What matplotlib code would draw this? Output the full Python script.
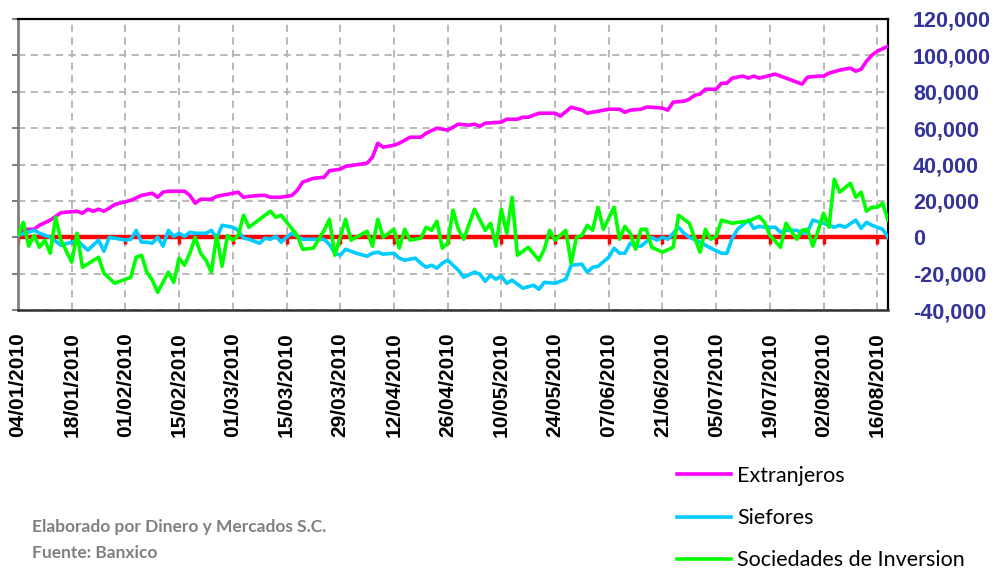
import numpy as np
import pandas as pd
import matplotlib
matplotlib.use("Agg")
import matplotlib.pyplot as plt
from matplotlib.ticker import FuncFormatter

# sesiones habiles desde 04/01/2010 (indice de sesion, valor en mdp)
ext_ses = [0, 1, 3, 4, 6, 8, 11, 12, 13, 14, 15, 16, 17, 18, 21, 23, 25, 26, 27, 28,
           31, 32, 33, 34, 36, 37, 39, 41, 42, 43, 45, 46, 47, 49, 51, 52, 53, 55, 57, 58,
           60, 61, 65, 66, 67, 68, 70, 71, 73, 75, 76, 78, 80, 82, 84, 85, 86, 87, 90, 91,
           93, 94, 95, 97, 98, 100, 101, 103, 105, 106, 108, 110, 112, 113, 114, 116, 117, 118, 120, 121,
           122, 124, 125, 126, 127, 128, 130, 131, 132, 133, 135, 136, 137, 138, 141, 142, 146, 147, 149, 150,
           151, 153, 155, 156, 157, 158, 159, 160, 162]
ext_val = [500, 4400, 4400, 6600, 9400, 13500, 14300, 13200, 15400, 14300, 15400, 14300, 16000, 18000, 20300, 23000, 24200, 22000, 24800, 25300,
           25300, 23000, 18700, 20900, 20900, 22500, 23600, 24800, 22000, 22500, 23000, 23000, 22000, 22000, 23000, 25800, 30300, 32400, 33000, 36600,
           37400, 39000, 40700, 44000, 51700, 49500, 50600, 51700, 55000, 55000, 57200, 60000, 58900, 62200, 61600, 62200, 61000, 62700, 63300, 64900,
           64900, 66000, 66000, 68200, 68200, 68200, 66600, 71500, 69900, 68200, 69300, 70400, 70400, 68700, 69900, 70400, 71500, 71500, 71000, 69900,
           74300, 74800, 75900, 78100, 78700, 81400, 81400, 84700, 84700, 87500, 88600, 87500, 88600, 87500, 89700, 88600, 84200, 88000, 88600, 88600,
           90200, 91900, 93000, 91300, 92400, 96800, 100100, 102300, 105000]

sie_ses = [0, 3, 4, 6, 8, 10, 11, 12, 13, 15, 16, 17, 18, 20, 21, 22, 23, 24, 25, 26,
           27, 28, 29, 30, 31, 32, 33, 35, 36, 37, 38, 40, 41, 42, 43, 45, 46, 47, 48, 49,
           50, 51, 53, 57, 58, 59, 60, 61, 63, 65, 66, 67, 68, 70, 71, 72, 74, 75, 76, 77,
           78, 79, 80, 82, 83, 85, 86, 87, 88, 89, 90, 91, 92, 94, 96, 97, 98, 100, 101, 102,
           103, 105, 106, 107, 108, 110, 111, 112, 113, 114, 115, 116, 118, 119, 120, 121, 123, 124, 125, 127,
           129, 131, 132, 133, 134, 136, 137, 138, 139, 141, 142, 143, 145, 146, 147, 148, 150, 152, 153, 154,
           156, 157, 158, 159, 160, 161, 162]
sie_val = [1000, 3800, 2200, 0, -4400, -2700, -1600, -4400, -7100, -1600, -7700, 0, -500, -1600, -1100, 3800, -2700, -2700, -3300, 0,
           -4900, 3800, 500, 2200, 500, 2700, 2200, 2200, 3800, -500, 6600, 5500, 3800, -500, -1100, -3300, -500, -1100, 500, -2700,
           0, 2200, -1100, -1100, -4000, -8800, -9900, -6600, -8800, -10400, -8800, -8200, -9300, -8800, -11500, -12600, -11500, -14300, -16500, -15400,
           -17000, -14300, -12600, -18100, -22000, -19200, -20300, -24200, -20900, -23100, -21400, -25300, -23600, -28000, -26400, -28600, -24800, -25300, -24200, -23100,
           -15400, -14800, -19200, -16500, -16000, -11000, -6000, -8800, -8800, -3300, -4900, -4900, 0, -1600, 0, -1100, 5500, 2200, 0, -2700,
           -6000, -8800, -8800, -500, 4400, 9400, 4900, 6000, 5500, 5500, 2700, 3800, 3800, 2200, 2700, 9400, 7700, 5500, 6600, 5500,
           9400, 4900, 8200, 6600, 5500, 4400, 0]

soc_ses = [0, 1, 2, 3, 4, 5, 6, 7, 8, 10, 11, 12, 15, 16, 17, 18, 21, 22, 23, 24,
           25, 26, 28, 29, 30, 31, 32, 33, 34, 35, 36, 37, 38, 39, 40, 41, 42, 43, 45, 47,
           48, 49, 52, 53, 55, 57, 58, 59, 61, 62, 65, 66, 67, 68, 70, 71, 72, 73, 75, 76,
           77, 78, 79, 80, 81, 82, 83, 85, 87, 88, 89, 90, 91, 92, 93, 95, 97, 98, 99, 100,
           102, 103, 104, 105, 106, 107, 108, 109, 111, 112, 113, 114, 115, 116, 117, 118, 120, 122, 123, 125,
           127, 128, 129, 130, 131, 133, 134, 136, 138, 139, 140, 142, 143, 145, 146, 147, 148, 149, 150, 151,
           152, 153, 155, 156, 157, 158, 159, 160, 161, 162]
soc_val = [1000, 8200, -4900, 1000, -5500, -1600, -8800, 11000, -1600, -13700, 2200, -16500, -11000, -19800, -22500, -25300, -22000, -11000, -9900, -19200,
           -23600, -30300, -19200, -24800, -11500, -15400, -8800, 0, -8800, -12600, -19200, 1000, -16000, 1000, -1600, 1000, 12100, 5500, 9900, 14300,
           11000, 12100, 1000, -6600, -6000, 3800, 9900, -9900, 9900, -1600, 3300, -4900, 9900, 0, 4400, -6000, 4400, -1600, -500, 5500,
           3800, 8800, -6000, -3300, 14900, 4400, -1100, 15400, 3800, 7700, -4900, 15400, 2200, 22000, -9900, -5500, -12600, -6600, 3800, -1600,
           3800, -14300, 0, 1000, 6600, 3800, 16500, 4400, 16500, -1100, 6000, 2200, -6600, 4400, 4400, -5500, -8200, -5500, 12100, 7700,
           -8200, 4400, -1100, 500, 9400, 7700, 8200, 8800, 11500, 8200, 1000, -5500, 7700, -1100, 3800, 4400, -4900, 3800, 13200, 5500,
           31900, 24800, 29700, 22000, 24800, 14300, 16500, 16500, 18700, 9400]

n_ses = 163
fechas = pd.bdate_range("2010-01-04", periods=n_ses)
tick_pos = np.arange(0, n_ses, 10)
tick_lab = [d.strftime("%d/%m/%Y") for d in fechas[tick_pos]]

fig = plt.figure(figsize=(9.92, 5.70), dpi=100)
ax = fig.add_axes([18/992, 1 - 310/570, 870/992, 291/570])

ax.set_xlim(0, n_ses - 1)
ax.set_ylim(-40000, 120000)
ax.set_yticks(np.arange(-40000, 120001, 20000))
ax.set_xticks(tick_pos)
ax.set_xticklabels(tick_lab, rotation=90, fontsize=15, fontweight="bold",
                   family="Liberation Sans")
ax.grid(True, color="#b3b3b3", linestyle=(0, (4, 3)), linewidth=1.3, zorder=0)
ax.set_axisbelow(True)

# eje en cero en rojo con marcas
ax.axhline(0, color="#ff0000", linewidth=3.2, zorder=1.5)
ax.plot(tick_pos, np.zeros(len(tick_pos)), linestyle="none", marker=3,
        markersize=5, markeredgewidth=2.5, color="#ff0000", zorder=1.5)

ax.plot(ext_ses, ext_val, color="#ff00ff", linewidth=2.6, label="Extranjeros", zorder=3)
ax.plot(sie_ses, sie_val, color="#00ccff", linewidth=2.6, label="Siefores", zorder=3)
ax.plot(soc_ses, soc_val, color="#00ff00", linewidth=2.6, label="Sociedades de Inversion", zorder=4)

ax.yaxis.set_major_formatter(FuncFormatter(lambda v, p: f"{int(v):,}"))
ax.tick_params(axis="y", left=True, right=False, labelleft=False, labelright=True,
               direction="out", length=4, width=1.5, color="#808080", pad=14,
               labelsize=15.5, labelcolor="#333399")
for t in ax.get_yticklabels():
    t.set_fontweight("bold")
    t.set_family("Liberation Sans")
ax.tick_params(axis="x", length=0, pad=16)

ax.spines["left"].set_color("#808080")
ax.spines["left"].set_linewidth(2)
ax.spines["top"].set_linewidth(1.6)
ax.spines["right"].set_linewidth(1.6)
ax.spines["bottom"].set_linewidth(1.8)
ax.spines["bottom"].set_color("#333333")

fig.legend(loc="upper left", bbox_to_anchor=(677/992, 1 - 466/570), frameon=False,
           prop={"family": "Lato", "size": 15.5}, handlelength=2.5, handletextpad=0.28,
           labelspacing=1.03, borderpad=0, borderaxespad=0)

fig.text(32/992, 1 - 527/570, "Elaborado por Dinero y Mercados S.C.", color="#808080",
         fontsize=12.5, fontweight="bold", family="Lato", va="center")
fig.text(32/992, 1 - 553/570, "Fuente: Banxico", color="#808080",
         fontsize=12.5, fontweight="bold", family="Lato", va="center")

fig.savefig("out.png", dpi=100)
